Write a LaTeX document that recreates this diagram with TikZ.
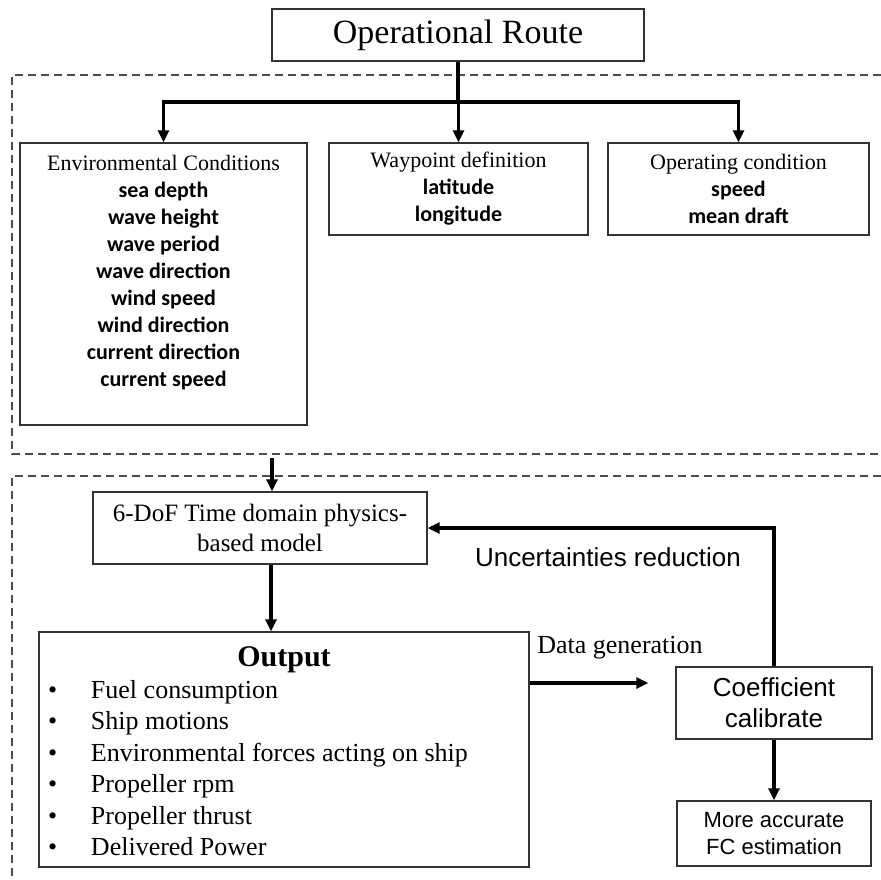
\documentclass[tikz,border=0pt]{standalone}
\usepackage{fontspec}
\setmainfont{Liberation Serif}
\setsansfont{Liberation Sans}
\newfontfamily\calibri{Carlito}
\newcommand\param[1]{{\calibri\bfseries #1}}
\usetikzlibrary{arrows.meta}
\tikzset{
  box/.style={draw=black!80, line width=1.4pt, inner sep=0pt},
  arr/.style={line width=3.3pt, -{Triangle[length=12pt,width=11pt]}},
  region/.style={draw=black!70, line width=1.3pt, dash pattern=on 8pt off 5pt}
}
\begin{document}
\begin{tikzpicture}[x=1pt, y=-1pt]
\useasboundingbox (0,0) rectangle (881,879);
\draw[region] (881,75) -- (12,75) -- (12,454) -- (881,454);
\draw[region] (881,476) -- (12,476) -- (12,879);

\node[box, minimum width=372, minimum height=52, font=\fontsize{34}{40}\selectfont] (route) at (458,35) {Operational Route};
\node[box, align=center, minimum width=287, minimum height=282, font=\fontsize{22}{27}\selectfont] (env) at (163.5,284)
  {Environmental Conditions\\ \param{sea depth}\\ \param{wave height}\\ \param{wave period}\\ \param{wave direction}\\
   \param{wind speed}\\ \param{wind direction}\\ \param{current direction}\\ \param{current speed}\\ \mbox{}};
\node[box, align=center, minimum width=259, minimum height=92, font=\fontsize{22}{27}\selectfont] (way) at (458.5,189)
  {Waypoint definition\\ \param{latitude}\\ \param{longitude}};
\node[box, align=center, minimum width=261, minimum height=92, font=\fontsize{22}{27}\selectfont] (oper) at (738.5,189)
  {Operating condition\\ \param{speed}\\ \param{mean draft}};

\node[box, align=center, minimum width=334, minimum height=72, font=\fontsize{25}{30}\selectfont] (model) at (260,528)
  {6-DoF Time domain physics-\\based model};
\node[box, minimum width=490, minimum height=235, font=\fontsize{26}{31.5}\selectfont] (output) at (284,749.5)
  {\begin{tabular}{@{\hspace{9pt}}p{43pt}@{}p{438pt}@{}}
   \multicolumn{2}{@{}c@{}}{\bfseries\fontsize{30}{31.5}\selectfont Output}\\
   \textbullet & Fuel consumption\\
   \textbullet & Ship motions\\
   \textbullet & Environmental forces acting on ship\\
   \textbullet & Propeller rpm\\
   \textbullet & Propeller thrust\\
   \textbullet & Delivered Power\\[-11pt]
   \end{tabular}};
\node[box, align=center, minimum width=196, minimum height=72, font=\sffamily\fontsize{26}{31}\selectfont] (coef) at (774,703)
  {Coefficient\\calibrate};
\node[box, align=center, minimum width=194, minimum height=65, font=\sffamily\fontsize{22}{27}\selectfont] (fc) at (774,833.5)
  {More accurate\\FC estimation};

\node[anchor=base, font=\sffamily\fontsize{26}{31}\selectfont] (unc) at (608,566) {Uncertainties reduction};
\node[anchor=base, font=\fontsize{26}{31}\selectfont] (dgen) at (620,653) {Data generation};

\coordinate (branch) at (458,102);
\draw[line width=3.3pt] (route.south) -- (branch);
\foreach \t in {env, way, oper}
    \draw[arr] (branch) -| (\t.north);
\coordinate (inA) at (272,458);
\draw[arr] (inA) -- (inA |- model.north);
\draw[arr] ([xshift=11pt]model.south) -- ([xshift=11pt]model.south |- output.north);
\draw[arr, shorten >=27pt] ([yshift=20pt]coef.west -| output.east) -- ([yshift=20pt]coef.west);
\draw[arr] (coef.north) |- (model.east);
\draw[arr] (coef.south) -- (fc.north);
\end{tikzpicture}
\end{document}
